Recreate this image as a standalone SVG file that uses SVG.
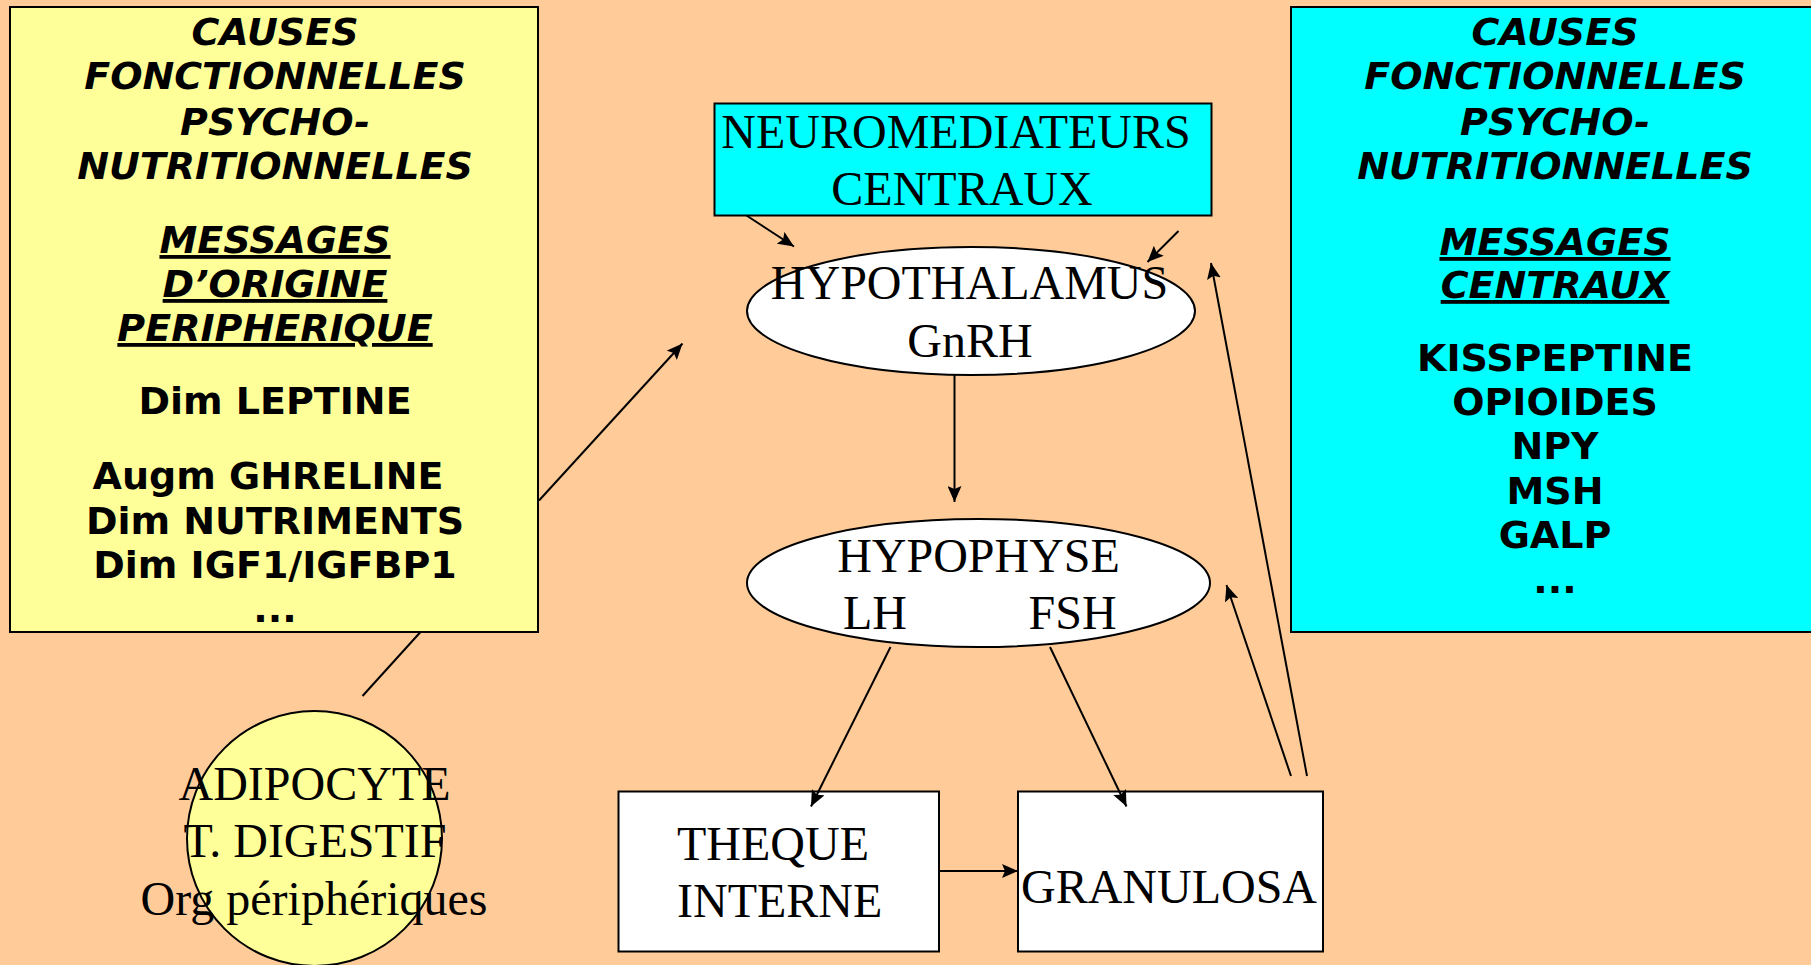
<svg xmlns="http://www.w3.org/2000/svg" width="1811" height="965" viewBox="0 0 1811 965">
<defs>
<style>
.box{stroke:#000;stroke-width:2}
.hd{font-family:"DejaVu Sans",Verdana,sans-serif;font-weight:bold;font-style:italic;font-size:38px;text-anchor:middle;fill:#000}
.ul{text-decoration:underline}
.bd{font-family:"DejaVu Sans",Verdana,sans-serif;font-weight:bold;font-size:38px;text-anchor:middle;fill:#000}
.sr{font-family:"Liberation Serif","Times New Roman",serif;font-size:48px;fill:#000}
.mid{text-anchor:middle}
.conn line{stroke:#000;stroke-width:2}
</style>
<marker id="arr" viewBox="0 0 16 14" refX="16" refY="7" markerWidth="16" markerHeight="14" markerUnits="userSpaceOnUse" orient="auto">
<path d="M0,0 L16,7 L0,14 L3,7 Z" fill="#000"/>
</marker>
</defs>
<rect x="0" y="0" width="1811" height="965" fill="#FFCC99"/>

<g id="left-box">
<rect class="box" x="10" y="7" width="528" height="625" fill="#FFFF99"/>
<text class="hd" x="275" y="45">CAUSES</text>
<text class="hd" x="275" y="89">FONCTIONNELLES</text>
<text class="hd" x="275" y="134.5">PSYCHO-</text>
<text class="hd" x="275" y="179">NUTRITIONNELLES</text>
<text class="hd ul" x="275" y="253">MESSAGES</text>
<text class="hd ul" x="275" y="297">D’ORIGINE</text>
<text class="hd ul" x="275" y="341">PERIPHERIQUE</text>
<text class="bd" x="275" y="414">Dim LEPTINE</text>
<text class="bd" x="268" y="488.5">Augm GHRELINE</text>
<text class="bd" x="275" y="533.5">Dim NUTRIMENTS</text>
<text class="bd" x="275" y="577.5">Dim IGF1/IGFBP1</text>
<text class="bd" x="275" y="622">...</text>
</g>

<g id="right-box">
<rect class="box" x="1291" y="7" width="530" height="625" fill="#00FFFF"/>
<text class="hd" x="1555" y="45">CAUSES</text>
<text class="hd" x="1555" y="89">FONCTIONNELLES</text>
<text class="hd" x="1555" y="135">PSYCHO-</text>
<text class="hd" x="1555" y="179">NUTRITIONNELLES</text>
<text class="hd ul" x="1555" y="255">MESSAGES</text>
<text class="hd ul" x="1555" y="298">CENTRAUX</text>
<text class="bd" x="1555" y="371">KISSPEPTINE</text>
<text class="bd" x="1555" y="415">OPIOIDES</text>
<text class="bd" x="1555" y="459">NPY</text>
<text class="bd" x="1555" y="504">MSH</text>
<text class="bd" x="1555" y="548">GALP</text>
<text class="bd" x="1555" y="593">...</text>
</g>

<g id="neuromediateurs">
<rect class="box" x="714.5" y="103.5" width="497" height="112" fill="#00FFFF"/>
<text class="sr mid" x="956" y="147.5">NEUROMEDIATEURS</text>
<text class="sr mid" x="962" y="205">CENTRAUX</text>
</g>

<g id="hypothalamus">
<ellipse class="box" cx="971" cy="311" rx="224" ry="64" fill="#FFFFFF"/>
<text class="sr mid" x="969.5" y="299">HYPOTHALAMUS</text>
<text class="sr mid" x="970" y="357">GnRH</text>
</g>

<g id="hypophyse">
<ellipse class="box" cx="978.5" cy="583" rx="231.5" ry="64" fill="#FFFFFF"/>
<text class="sr mid" x="978.5" y="572">HYPOPHYSE</text>
<text class="sr" x="843" y="628.5">LH</text>
<text class="sr" x="1028.5" y="628.5">FSH</text>
</g>

<g id="theque">
<rect class="box" x="618.5" y="791.5" width="320.5" height="160" fill="#FFFFFF"/>
<text class="sr" x="677" y="860">THEQUE</text>
<text class="sr" x="677" y="917">INTERNE</text>
</g>

<g id="granulosa">
<rect class="box" x="1018" y="791.5" width="305" height="160" fill="#FFFFFF"/>
<text class="sr mid" x="1169" y="903">GRANULOSA</text>
</g>

<g id="adipocyte">
<circle class="box" cx="314.5" cy="838.5" r="127.5" fill="#FFFF99"/>
<text class="sr mid" x="314.5" y="800">ADIPOCYTE</text>
<text class="sr mid" x="315" y="857">T. DIGESTIF</text>
<text class="sr mid" x="314" y="915">Org périphériques</text>
</g>

<g id="connectors" class="conn">
<line x1="539" y1="500.5" x2="682.5" y2="343.5" marker-end="url(#arr)"/>
<line x1="420.5" y1="632" x2="362.5" y2="696"/>
<line x1="746.5" y1="215.5" x2="794" y2="246.5" marker-end="url(#arr)"/>
<line x1="1178.5" y1="231" x2="1147.5" y2="262" marker-end="url(#arr)"/>
<line x1="954.5" y1="375" x2="954.5" y2="502" marker-end="url(#arr)"/>
<line x1="890.5" y1="647" x2="811" y2="806.5" marker-end="url(#arr)"/>
<line x1="1050" y1="647" x2="1126.5" y2="806.5" marker-end="url(#arr)"/>
<line x1="939.5" y1="871" x2="1018" y2="871" marker-end="url(#arr)"/>
<line x1="1291" y1="776" x2="1226.5" y2="585" marker-end="url(#arr)"/>
<line x1="1307" y1="776" x2="1211" y2="263" marker-end="url(#arr)"/>
</g>
</svg>
